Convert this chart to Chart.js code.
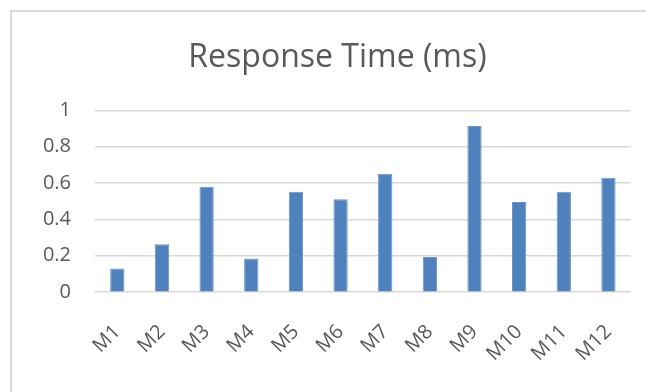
<!DOCTYPE html>
<html>
<head>
<meta charset="utf-8">
<script src="https://cdn.jsdelivr.net/npm/chart.js@4"></script>
<style>
  html, body { margin: 0; padding: 0; background: #fff; }
  #wrap { position: relative; width: 646px; height: 392px; overflow: hidden; }
  #frame { position: absolute; left: 10px; top: 10px; width: 700px; height: 500px;
           border-left: 2px solid #d9d9d9; border-top: 2px solid #d9d9d9; }
  canvas { position: absolute; left: 0; top: 0; }
</style>
</head>
<body>
<div id="wrap">
  <div id="frame"></div>
  <canvas id="responseChart" width="646" height="392"></canvas>
</div>
<script>
// data
const months = ['M1', 'M2', 'M3', 'M4', 'M5', 'M6', 'M7', 'M8', 'M9', 'M10', 'M11', 'M12'];
const responseTimes = [0.13, 0.264, 0.58, 0.185, 0.553, 0.511, 0.652, 0.194, 0.914, 0.496, 0.553, 0.63];
const yTicks = [0, 0.2, 0.4, 0.6, 0.8, 1];

document.addEventListener("DOMContentLoaded", function () {
    const ctx = document.getElementById('responseChart').getContext('2d');
    new Chart(ctx, {
        type: 'bar',
        data: {
            labels: months,
            datasets: [{
                label: 'Response Time (ms)',
                data: responseTimes,
                backgroundColor: '#4f81bd',
                borderColor: '#6d95c8',
                borderWidth: 1,
                barPercentage: 0.64,
                categoryPercentage: 0.5
            }]
        },
        options: {
            responsive: false,
            animation: false,
            layout: {
                padding: { left: 43, right: 14, top: 10, bottom: 6 }
            },
            plugins: {
                legend: { display: false },
                tooltip: { enabled: false },
                title: {
                    display: true,
                    text: 'Response Time (ms)',
                    color: '#595959',
                    font: { family: 'Open Sans', size: 32, weight: 'normal' },
                    padding: { top: 29, bottom: 33 }
                }
            },
            scales: {
                x: {
                    grid: { display: false },
                    border: { display: false },
                    ticks: {
                        color: '#595959',
                        font: { family: 'Open Sans', size: 20 },
                        minRotation: 45,
                        maxRotation: 45,
                        padding: 20
                    }
                },
                y: {
                    min: 0,
                    max: 1,
                    afterBuildTicks: function (axis) {
                        axis.ticks = yTicks.map(v => ({ value: v }));
                    },
                    // fixed width so the title stays centred like the original
                    afterFit: function (axis) {
                        axis.width = 52;
                    },
                    grid: { color: '#d9d9d9', lineWidth: 1.5, drawTicks: false },
                    border: { display: false },
                    ticks: {
                        color: '#595959',
                        font: { family: 'Open Sans', size: 20 },
                        padding: 24,
                        callback: v => String(Math.round(v * 10) / 10)
                    }
                }
            }
        }
    });
});
</script>
</body>
</html>
